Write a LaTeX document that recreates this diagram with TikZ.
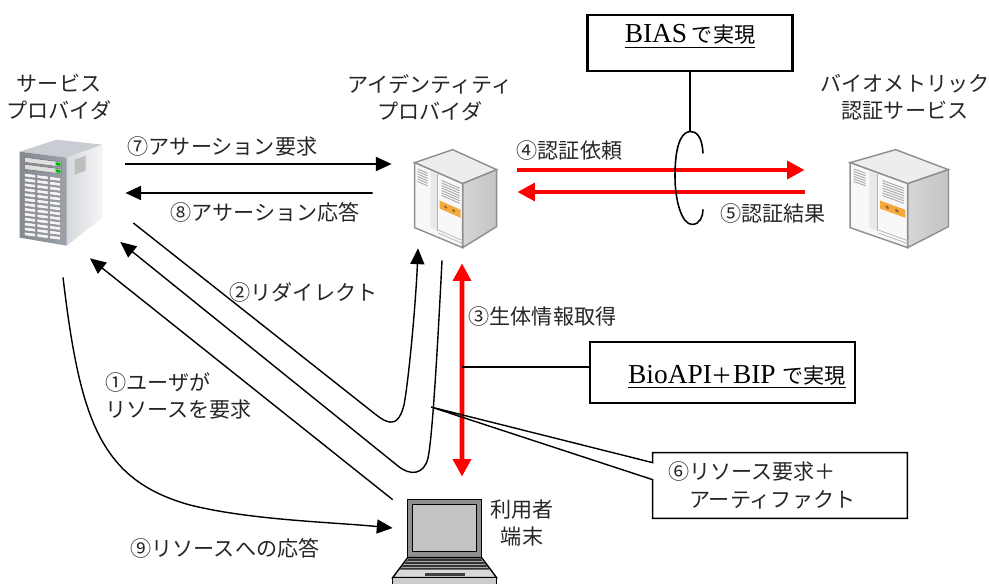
\documentclass[tikz,border=0pt]{standalone}
\usepackage{fontspec}
\setmainfont{Noto Sans CJK JP}
\newfontfamily\latinfont[Scale=1.3]{Liberation Serif}
\usetikzlibrary{arrows.meta,calc}

\definecolor{towertop}{HTML}{C9CCD3}
\definecolor{towerfront}{HTML}{9CA1AB}
\definecolor{towerside}{HTML}{D6D9DE}
\definecolor{boxtop}{HTML}{EDEDED}
\definecolor{boxfront}{HTML}{F8F8F8}
\definecolor{boxside}{HTML}{C4C4C4}
\definecolor{boxline}{HTML}{8E8E8E}
\definecolor{panel}{HTML}{F3A93C}
\definecolor{lidgray}{HTML}{8F8F8F}
\definecolor{screengray}{HTML}{C3C3C3}

\tikzset{
  % tower server (front face with drive bays)
  tower/.pic={
    \fill[towertop] (2,12) -- (39,0) -- (85,5) -- (49,18) -- cycle;
    \shade[left color=towerside, right color=white!92!gray] (49,18) -- (85,5) -- (85,78) -- (49,106) -- cycle;
    \shade[left color=towerfront!85!black, right color=towerfront] (2,12) -- (49,18) -- (49,106) -- (2,98) -- cycle;
    \fill[gray!50] (57,20) -- (68,16) -- (68,31) -- (57,35) -- cycle;
    \begin{scope}[shift={(2,12)}, yslant=-0.128]
      \draw[black!55, fill=gray!25, line width=0.3pt] (5,5) rectangle (42,10);
      \draw[black!55, fill=gray!25, line width=0.3pt] (5,12) rectangle (42,17);
      \fill[green!70!black] (36,6) rectangle (41,9);
      \fill[green!70!black] (36,13) rectangle (41,16);
      \foreach \r in {0,...,12}
        \foreach \c in {0,1,2}
          \draw[black!45, fill=gray!8, line width=0.3pt] (5+12.5*\c,21+4.9*\r) rectangle ++(11,3.4);
    \end{scope}
  },
  % small white box server
  whitebox/.pic={
    \draw[boxline, line width=0.8pt, fill=boxtop] (2,15) -- (40,2) -- (84,22) -- (50,36) -- cycle;
    \shade[left color=boxside!70, right color=boxside] (50,36) -- (84,22) -- (84,79) -- (50,100) -- cycle;
    \draw[boxline, line width=0.8pt] (50,36) -- (84,22) -- (84,79) -- (50,100) -- cycle;
    \draw[boxline, line width=0.8pt, fill=boxfront] (2,15) -- (50,36) -- (50,100) -- (2,80) -- cycle;
    \begin{scope}[shift={(2,15)}, yslant=-0.4375]
      \fill[gray!18] (16,1) rectangle (23,58);
      \draw[gray!60, line width=0.4pt] (23,1) -- (23,58);
      \foreach \v in {5,7.5,...,17.5}
        \draw[gray!70, line width=0.5pt] (3,\v) -- (13,\v);
      \foreach \v in {6,8.5,...,21}
        \draw[gray!70, line width=0.5pt] (27,\v) -- (45,\v);
      \fill[panel] (25,27) rectangle (46,35);
      \fill[brown!80!black] (31,31) circle (0.9pt);
      \fill[brown!80!black] (39,31) circle (0.9pt);
      \draw[gray!60, line width=0.4pt] (24,57) -- (48,57);
      \draw[gray!60, line width=0.4pt] (24,60) -- (48,60);
    \end{scope}
  },
  % user terminal
  laptop/.pic={
    \draw[line width=0.8pt, fill=lidgray] (15,0) rectangle (89,58);
    \draw[line width=0.8pt, fill=screengray] (20,5) rectangle (84,52);
    \draw[line width=0.8pt, fill=gray!30] (15,58) -- (89,58) -- (104,78) -- (0,78) -- cycle;
    \fill[black!80] (16,59) -- (88,59) -- (97,70) -- (7,70) -- cycle;
    \foreach \k/\l/\r in {62/14/90, 65/11.5/92.5, 68/9/95}
      \draw[gray!65, line width=0.6pt] (\l,\k) -- (\r,\k);
    \fill[black!75] (32,73) rectangle (72,76);
    \draw[line width=0.8pt, fill=gray!40] (0,78) rectangle (104,86);
  }
}

\begin{document}
\begin{tikzpicture}[x=0.2mm, y=-0.2mm,
  font=\fontsize{12pt}{15.5pt}\selectfont,
  lbl/.style={inner sep=0pt, align=center, text=black!85},
  flow/.style={-{Triangle[length=9pt,width=8pt]}, line width=0.8pt},
  bioflow/.style={red, line width=2.8pt, -{Triangle[length=10pt,width=10pt]}},
  realised/.style={draw, line width=1.6pt, inner sep=0pt}]
\useasboundingbox (0,0) rectangle (990,584);

% machines
\node[minimum width=17mm, minimum height=21mm] (sp) at (60.5,192.5) {};
\pic at (sp.north west) {tower};
\node[minimum width=16.8mm, minimum height=20.4mm] (idp) at (455,199) {};
\pic at (idp.north west) {whitebox};
\node[minimum width=20.4mm, minimum height=20.4mm] (bio) at (899,199) {};
\pic[xscale=1.2] at (bio.north west) {whitebox};
\node[minimum width=21mm, minimum height=16.8mm] (pc) at (445.5,542) {};
\pic at (pc.north west) {laptop};

\node[lbl] (spname) at (59,97) {サービス\\プロバイダ};
\node[lbl] (idpname) at (430,98) {アイデンティティ\\プロバイダ};
\node[lbl] (bioname) at (905,97) {バイオメトリック\\認証サービス};
\node[lbl] (pcname) at (522,523) {利用者\\端末};

% message labels
\node[lbl] (t7) at (222.5,146) {⑦アサーション要求};
\node[lbl] (t8) at (265,212) {⑧アサーション応答};
\node[lbl] (t4) at (569.5,150) {④認証依頼};
\node[lbl] (t5) at (773,213) {⑤認証結果};
\node[lbl] (t2) at (303.5,292) {②リダイレクト};
\node[lbl] (t3) at (542.5,316) {③生体情報取得};
\node[lbl, align=left, anchor=west] (t1) at (105,396) {①ユーザが\\リソースを要求};
\node[lbl] (t9) at (225,548) {⑨リソースへの応答};

% assertion exchange
\draw[flow, line width=1.1pt] ($(sp.east)+(22,-28.5)$) -- ($(idp.west)+(-21,-35)$);
\draw[flow, line width=1.1pt] ($(idp.west)+(-40,-6)$) -- ($(sp.east)+(22,0.5)$);

% browser round trips
\draw[flow] (pc.north west) -- ($(sp.south)+(29.5,13)$);
\draw[flow] ($(sp.east)+(30,30.5)$) -- (370,410)
  .. controls (385,422) and (397,432) .. (404,405)
  .. controls (409,378) and (416,300) .. ($(idp.south)+(-37,-2)$);
\draw[flow] ($(idp.south)+(-13,10)$) .. controls (437,360) and (432,440) .. (428,458)
  .. controls (424,475) and (410,476) .. (398,466) -- ($(sp.east)+(17,49.5)$);
\draw[flow] ($(sp.south)+(2.5,32)$) .. controls (80,420) and (100,480) .. (190,505)
  .. controls (250,520) and (330,522) .. ($(pc.west)+(0,-14)$);

% biometric paths
\draw[bioflow] ($(idp.east)+(20,-29)$) -- ($(bio.west)+(-43,-29)$);
\draw[bioflow] ($(bio.west)+(-43,-7)$) -- ($(idp.east)+(20,-7)$);
\draw[bioflow, {Triangle[length=10pt,width=10pt]}-{Triangle[length=10pt,width=10pt]}]
  ($(idp.south)+(7,13)$) coordinate (cap3) -- ($(pc.north)+(16.5,-23)$);

% implementation notes
\node[realised, minimum width=41mm, text height=5.6mm, text depth=5.6mm] (bias) at (690,43)
  {\underline{{\latinfont BIAS} で実現}};
\draw[line width=0.9pt] (bias.south) -- ++(0,59) coordinate (twist);
\draw[line width=0.9pt] ($(twist)+(13,22)$) .. controls +(-1,-18) and +(6,0) .. (twist)
  .. controls +(-11,1) and +(0,-25) .. ($(twist)+(-15,45)$)
  .. controls +(0,25) and +(-10,0) .. ($(twist)+(2,93)$)
  .. controls +(8,0) and +(0,7) .. ($(twist)+(13,78)$);

\node[realised, inner xsep=1.8mm, text width=49.4mm, align=right, text height=8.2mm, text depth=4mm]
  (bioapi) at (722.5,372.5) {\underline{{\latinfont BioAPI}＋{\latinfont BIP} で実現}};
\coordinate (hook) at ($(bioapi.west)+(0,-5.5)$);
\draw[line width=0.9pt] (hook) -- (hook -| cap3);

% artifact callout
\coordinate (ptr) at (431,407);
\node[lbl, align=left, text width=44.8mm, inner xsep=3mm, minimum height=13mm] (c6) at (780,485.5)
  {⑥リソース要求＋\\\hspace*{1em}アーティファクト};
\draw[line width=0.8pt] (c6.north west) -- (c6.north east) -- (c6.south east) -- (c6.south west)
  -- ($(c6.north west)+(0,27)$) -- (ptr) -- ($(c6.north west)+(0,10)$) -- cycle;
\end{tikzpicture}
\end{document}
